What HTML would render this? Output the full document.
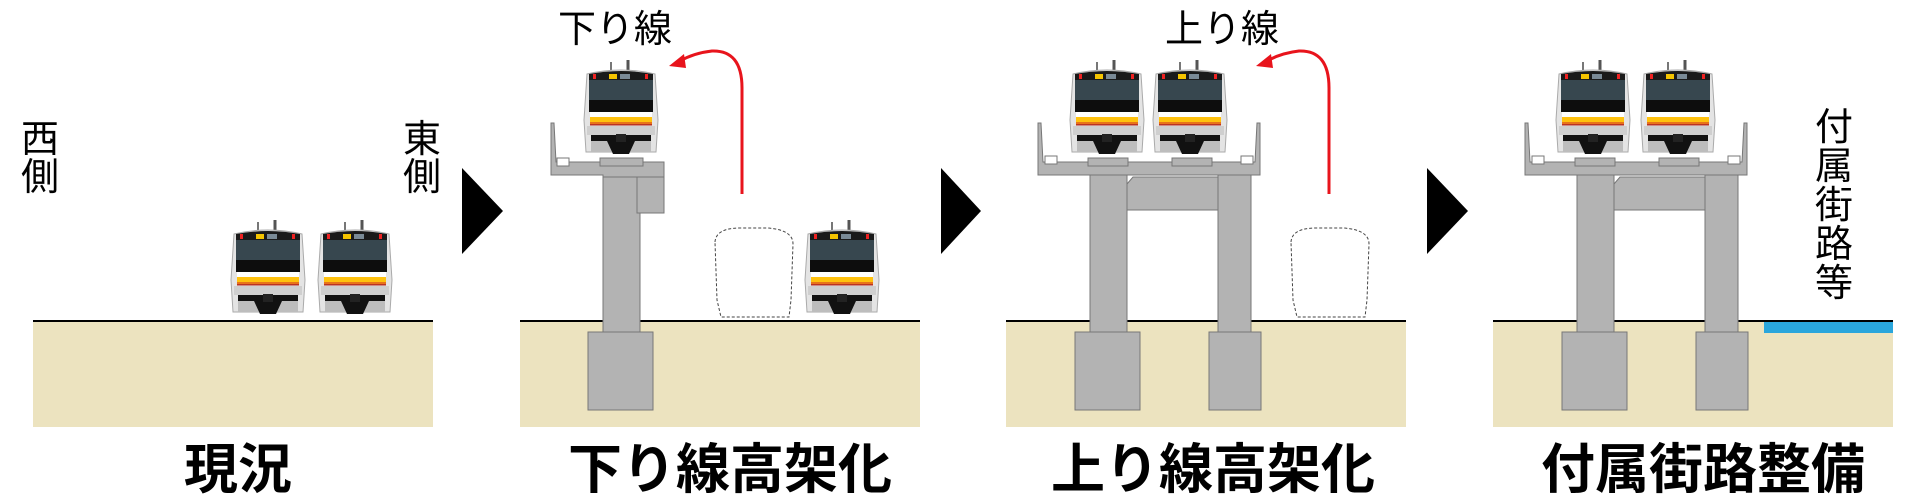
<!DOCTYPE html>
<html><head><meta charset="utf-8"><style>
html,body{margin:0;padding:0;background:#fff;}
svg{display:block}
.lbl{font-family:"Liberation Sans","Noto Sans CJK JP",sans-serif;font-weight:bold;font-size:54px;fill:#000}
.thin{font-family:"Liberation Sans","Noto Sans CJK JP",sans-serif;font-size:38px;fill:#000}
</style></head><body>
<svg width="1920" height="500" viewBox="0 0 1920 500" xmlns="http://www.w3.org/2000/svg">
<defs>
<symbol id="tr" viewBox="0 0 76 98" width="76" height="98">
  <line x1="28" y1="2" x2="28" y2="12" stroke="#777" stroke-width="2"/>
  <line x1="45" y1="0" x2="45" y2="12" stroke="#555" stroke-width="3"/>
  <path d="M4 14 Q38 6 72 14 L75 60 L73 92 L3 92 L1 60 Z" fill="#e4e4e4" stroke="#aaa"/>
  <path d="M6 14 Q38 8 70 14 L70 20 L6 20 Z" fill="#1a1a1a"/>
  <rect x="10" y="14" width="3" height="5" fill="#e22"/>
  <rect x="62" y="14" width="3" height="5" fill="#e22"/>
  <rect x="26" y="14" width="8" height="5" fill="#f5c400"/>
  <rect x="37" y="14" width="10" height="5" fill="#7a8a96"/>
  <rect x="6" y="20" width="64" height="20" fill="#37474f"/>
  <rect x="6" y="40" width="64" height="12" fill="#0d0d0d"/>
  <rect x="7" y="52" width="62" height="5" fill="#fff"/>
  <rect x="7" y="57" width="62" height="5" fill="#ffc20e"/>
  <rect x="7" y="62" width="62" height="2" fill="#e8731a"/>
  <rect x="7" y="64" width="62" height="1.5" fill="#b32"/>
  <rect x="4" y="66" width="68" height="9" fill="#cfcfcf"/>
  <rect x="8" y="75" width="60" height="6" fill="#111"/>
  <path d="M8 81 L24 81 L30 92 L8 92 Z" fill="#bdbdbd"/>
  <path d="M68 81 L52 81 L46 92 L68 92 Z" fill="#bdbdbd"/>
  <path d="M24 81 L52 81 L46 94 L30 94 Z" fill="#111"/>
  <rect x="33" y="74" width="10" height="8" fill="#222"/>
</symbol>
</defs>

<g fill="#ece3bf">
<rect x="33" y="321" width="400" height="106"/>
<rect x="520" y="321" width="400" height="106"/>
<rect x="1006" y="321" width="400" height="106"/>
<rect x="1493" y="321" width="400" height="106"/>
</g>
<rect x="1764" y="321" width="129" height="12" fill="#2aa6dc"/>
<g stroke="#000" stroke-width="2">
<line x1="33" y1="321" x2="433" y2="321"/>
<line x1="520" y1="321" x2="920" y2="321"/>
<line x1="1006" y1="321" x2="1406" y2="321"/>
<line x1="1493" y1="321" x2="1893" y2="321"/>
</g>

<use href="#tr" x="230" y="220"/>
<use href="#tr" x="317" y="220"/>

<g fill="#b3b3b3" stroke="#777" stroke-width="1">
<rect x="588" y="332" width="65" height="78"/>
<rect x="603" y="175" width="37" height="157"/>
<path d="M551 168 L551 123 L554 123 L556 162 L664 162 L664 213 L640 213 L640 177 L603 177 L603 175 L551 175 Z"/>
<rect x="637" y="177" width="27" height="36"/>
<rect x="600" y="158" width="43" height="8"/>
<rect x="557" y="158" width="12" height="8" fill="#fff"/>
</g>
<use href="#tr" x="583" y="60"/>
<use href="#tr" x="804" y="220"/>
<path d="M715 242 Q716 228 740 228 L768 228 Q793 230 793 244 L791 300 L789 317 L721 317 L717 300 Z" fill="none" stroke="#444" stroke-width="1" stroke-dasharray="3,2"/>

<g id="s3" fill="#b3b3b3" stroke="#777" stroke-width="1">
<rect x="1075" y="332" width="65" height="78"/>
<rect x="1209" y="332" width="52" height="78"/>
<rect x="1090" y="175" width="37" height="157"/>
<rect x="1218" y="175" width="33" height="157"/>
<path d="M1127 184 L1133 177 L1218 177 L1218 210 L1127 210 Z"/>
<path d="M1038 175 L1038 123 L1041 123 L1043 162 L1255 162 L1257 123 L1260 123 L1260 175 Z"/>
<rect x="1088" y="158" width="40" height="8"/>
<rect x="1172" y="158" width="40" height="8"/>
<rect x="1045" y="156" width="12" height="8" fill="#fff"/>
<rect x="1241" y="156" width="12" height="8" fill="#fff"/>
</g>
<use href="#s3" x="487"/>
<use href="#tr" x="1069" y="60"/>
<use href="#tr" x="1152" y="60"/>
<use href="#tr" x="1555" y="60"/>
<use href="#tr" x="1640" y="60"/>
<path d="M1291 242 Q1292 228 1316 228 L1344 228 Q1369 230 1369 244 L1367 300 L1365 317 L1297 317 L1293 300 Z" fill="none" stroke="#444" stroke-width="1" stroke-dasharray="3,2"/>

<g fill="none" stroke="#e8141c" stroke-width="3">
<path d="M742 194 L742 88 Q742 50 712 51 Q694 53 680 61"/>
<path d="M1329 194 L1329 88 Q1329 50 1299 51 Q1281 53 1267 61"/>
</g>
<path d="M669 66 L684 54 L686 68 Z" fill="#e8141c"/>
<path d="M1256 66 L1271 54 L1273 68 Z" fill="#e8141c"/>

<path d="M462 168 L503 211 L462 254 Z" fill="#000"/>
<path d="M941 168 L981 211 L941 254 Z" fill="#000"/>
<path d="M1427 168 L1468 211 L1427 254 Z" fill="#000"/>

<text class="thin" x="40" y="152" text-anchor="middle">西</text>
<text class="thin" x="40" y="190" text-anchor="middle">側</text>
<text class="thin" x="422" y="152" text-anchor="middle">東</text>
<text class="thin" x="422" y="190" text-anchor="middle">側</text>
<text class="thin" x="615" y="42" text-anchor="middle">下り線</text>
<text class="thin" x="1222" y="42" text-anchor="middle">上り線</text>
<g class="thin" text-anchor="middle">
<text x="1834" y="140">付</text>
<text x="1834" y="179">属</text>
<text x="1834" y="218">街</text>
<text x="1834" y="257">路</text>
<text x="1834" y="296">等</text>
</g>
<text class="lbl" x="238" y="488" text-anchor="middle">現況</text>
<text class="lbl" x="730" y="488" text-anchor="middle">下り線高架化</text>
<text class="lbl" x="1213" y="488" text-anchor="middle">上り線高架化</text>
<text class="lbl" x="1703" y="488" text-anchor="middle">付属街路整備</text>
</svg>
</body></html>
